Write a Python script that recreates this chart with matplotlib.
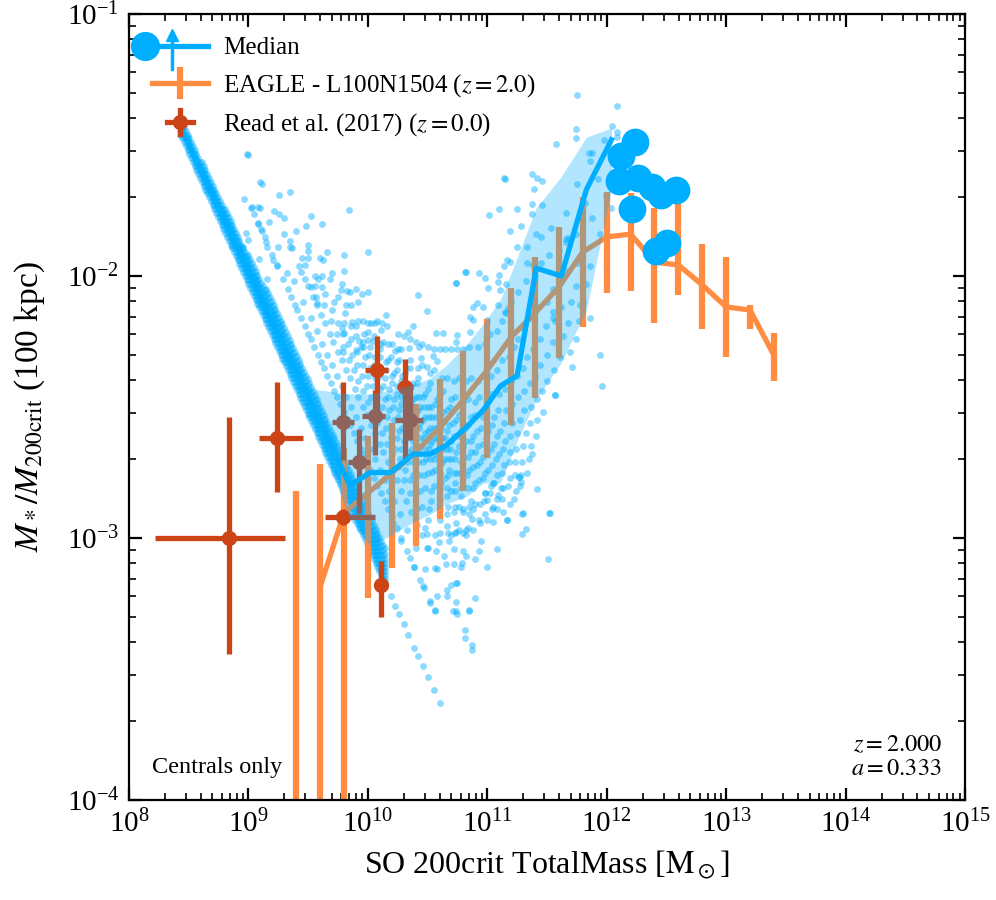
import numpy as np
import matplotlib
matplotlib.use("Agg")
import matplotlib.pyplot as plt
from matplotlib.lines import Line2D
from matplotlib.legend_handler import HandlerBase
from matplotlib.ticker import NullFormatter

plt.rcParams["font.family"] = ["Liberation Serif", "DejaVu Serif"]
plt.rcParams["mathtext.fontset"] = "stix"

blue = "#00AEFF"
orange = "#FF8C40"
red = "#CC4416"

# ---- data (log10 values) ----
# median of the simulation, with 16-84 percentile band
med_logm = [8.43, 8.70, 9.00, 9.30, 9.50, 9.85, 10.02, 10.19, 10.38, 10.52,
            10.66, 10.83, 10.97, 11.11, 11.25, 11.41, 11.62, 11.83, 12.04]
med_logr = [-1.43, -1.69, -1.98, -2.27, -2.46, -2.80, -2.75, -2.75, -2.68, -2.68,
            -2.645, -2.575, -2.51, -2.42, -2.38, -1.97, -2.00, -1.67, -1.48]
med_hi = [-1.41, -1.66, -1.94, -2.22, -2.43, -2.45, -2.45, -2.435, -2.415, -2.39,
          -2.34, -2.26, -2.18, -2.09, -1.93, -1.74, -1.62, -1.47, -1.435]
med_lo = [-1.45, -1.72, -2.01, -2.31, -2.50, -2.93, -3.03, -2.99, -2.94, -2.91,
          -2.87, -2.84, -2.79, -2.79, -2.63, -2.47, -2.33, -2.13, -1.67]

# haloes above the binned range
big_logm = [12.237, 12.117, 12.105, 12.264, 12.377, 12.452, 12.578, 12.209, 12.413, 12.507]
big_logr = [-1.490, -1.541, -1.637, -1.625, -1.659, -1.691, -1.672, -1.745, -1.903, -1.875]

# EAGLE L100N1504 z=2
eagle_logm = [9.4, 9.6, 9.8, 10.0, 10.2, 10.4, 10.6, 10.8, 11.0, 11.2, 11.4,
              11.6, 11.8, 12.0, 12.2, 12.4, 12.6, 12.8, 13.0, 13.2, 13.4]
eagle_logr = [np.nan, -3.187, -2.905, -2.828, -2.752, -2.672, -2.580, -2.473, -2.359,
              -2.233, -2.141, -2.042, -1.908, -1.851, -1.840, -1.947, -1.958, -2.034,
              -2.118, -2.130, -2.302]
eagle_hi = [-2.821, -2.718, -2.656, -2.611, -2.561, -2.489, -2.393, -2.286, -2.164,
            -2.046, -1.927, -1.813, -1.698, -1.679, -1.683, -1.740, -1.691, -1.878,
            -1.927, -2.111, -2.218]
eagle_lo = [-5.0, -5.0, -5.0, -3.229, -3.115, -3.031, -2.927, -2.821, -2.695, -2.569,
            -2.466, -2.313, -2.195, -2.065, -2.057, -2.179, -2.073, -2.202, -2.309,
            -2.202, -2.401]

# Read et al. (2017)
read_logm = [8.840, 9.237, 9.794, 10.110, 9.794, 9.928, 10.060, 10.074, 10.311, 10.353]
read_logr = [-2.999, -2.617, -2.919, -3.179, -2.556, -2.709, -2.534, -2.359, -2.423, -2.550]
read_m_lo = [8.218, 9.089, 9.641, 10.110, 9.697, 9.836, 9.948, 9.976, 10.241, 10.227]
read_m_hi = [9.306, 9.459, 10.060, 10.110, 9.881, 10.018, 10.144, 10.171, 10.380, 10.464]
read_r_lo = [-3.444, -2.826, -2.950, -3.300, -2.702, -2.906, -2.683, -2.534, -2.700, -2.626]
read_r_hi = [-2.537, -2.406, -2.890, -3.088, -2.403, -2.585, -2.435, -2.229, -2.317, -2.424]

# individual haloes: the low-mass band (log M*, and the log M200 where each level starts)
band_mstar = [6.97, 6.985, 7.00, 7.015, 7.03, 7.045, 7.06, 7.08, 7.10]
band_from = [8.43, 8.43, 8.43, 8.43, 8.46, 8.6, 8.8, 9.0, 9.15]
band_logm = [8.43, 8.445, 8.46, 8.475, 8.49, 8.505, 8.52, 8.535, 8.55, 8.565, 8.58,
             8.595, 8.61, 8.625, 8.64, 8.655, 8.67, 8.685, 8.70, 8.715, 8.73, 8.745,
             8.76, 8.775, 8.79, 8.805, 8.82, 8.835, 8.85, 8.865, 8.88, 8.895, 8.91,
             8.925, 8.94, 8.955, 8.97, 8.985, 9.00, 9.015, 9.03, 9.045, 9.06, 9.075,
             9.09, 9.105, 9.12, 9.135, 9.15, 9.165, 9.18, 9.195, 9.21, 9.225, 9.24,
             9.255, 9.27, 9.285, 9.30, 9.315, 9.33, 9.345, 9.36, 9.375, 9.39, 9.405,
             9.42, 9.435, 9.45, 9.465, 9.48, 9.495, 9.51, 9.525, 9.54, 9.555, 9.57,
             9.585, 9.60, 9.615, 9.63, 9.645, 9.66, 9.675, 9.69, 9.705, 9.72, 9.735,
             9.75, 9.765, 9.78, 9.795, 9.81, 9.825, 9.84, 9.855, 9.87, 9.885, 9.90,
             9.915, 9.93, 9.945, 9.96, 9.975, 9.99, 10.005, 10.02, 10.035, 10.05,
             10.065, 10.08, 10.095, 10.11, 10.125, 10.14]
tail_logm = [10.19, 10.23, 10.26, 10.30, 10.34, 10.39, 10.42, 10.46, 10.50, 10.55, 10.60]

# haloes along streaks of (nearly) fixed log M*
streak_mstar = [7.28, 7.36, 7.46, 7.52, 7.57, 7.62, 7.67, 7.71, 7.75, 7.79, 7.82, 7.85,
                7.88, 7.91, 7.94, 7.97, 8.0, 8.03, 8.07, 8.11, 8.15, 8.19, 8.23, 8.27,
                8.32, 8.37, 8.42, 8.47, 8.52, 8.58, 8.65, 8.72, 8.8, 8.87, 8.95, 9.02,
                9.1, 9.2, 9.3, 9.4, 9.5, 9.6, 9.7, 9.8, 9.9, 10.1, 10.3, 10.5]
streak_logm = [
    [9.02, 9.08, 9.11, 9.15, 9.2, 9.24, 9.29, 9.33, 9.36, 9.39, 9.41, 9.44, 9.47, 9.5,
     9.52, 9.55, 9.58, 9.61, 9.63, 9.66, 9.69, 9.72, 9.74, 9.77, 9.8, 9.83, 9.85, 9.88,
     9.91, 9.94, 9.96, 9.99, 10.02, 10.05, 10.08, 10.11, 10.14, 10.17, 10.2, 10.24,
     10.28, 10.33, 10.39, 10.44, 10.47, 10.52, 10.56],
    [9.1, 9.25, 9.38, 9.46, 9.52, 9.57, 9.62, 9.66, 9.7, 9.74, 9.78, 9.82, 9.86, 9.9,
     9.94, 9.98, 10.02, 10.06, 10.1, 10.14, 10.18, 10.22, 10.27, 10.33, 10.4, 10.48, 10.58],
    [9.0, 9.1, 9.21, 9.3, 9.35, 9.42, 9.47, 9.5, 9.54, 9.57, 9.61, 9.64, 9.68, 9.71,
     9.75, 9.78, 9.82, 9.85, 9.89, 9.92, 9.96, 9.99, 10.03, 10.06, 10.1, 10.13, 10.17,
     10.2, 10.24, 10.28, 10.32, 10.36, 10.41, 10.45, 10.5, 10.58, 10.66, 10.74, 10.81,
     10.87],
    [9.3, 9.45, 9.56, 9.63, 9.69, 9.74, 9.79, 9.84, 9.88, 9.92, 9.96, 10.0, 10.04, 10.08,
     10.12, 10.16, 10.2, 10.25, 10.3, 10.35, 10.41, 10.48, 10.57, 10.7],
    [9.26, 9.4, 9.5, 9.58, 9.64, 9.7, 9.75, 9.79, 9.83, 9.87, 9.91, 9.95, 9.99, 10.03,
     10.07, 10.11, 10.15, 10.19, 10.23, 10.27, 10.31, 10.35, 10.4, 10.45, 10.5, 10.56,
     10.64, 10.74, 10.85],
    [9.5, 9.62, 9.72, 9.8, 9.86, 9.91, 9.96, 10.0, 10.04, 10.08, 10.12, 10.16, 10.2,
     10.24, 10.28, 10.33, 10.38, 10.44, 10.51, 10.6, 10.72],
    [9.35, 9.48, 9.6, 9.68, 9.75, 9.81, 9.86, 9.9, 9.94, 9.98, 10.02, 10.06, 10.1,
     10.14, 10.18, 10.22, 10.26, 10.3, 10.34, 10.38, 10.43, 10.48, 10.53, 10.6, 10.68,
     10.78, 10.9],
    [9.7, 9.82, 9.9, 9.96, 10.01, 10.05, 10.09, 10.13, 10.17, 10.21, 10.25, 10.29, 10.33,
     10.37, 10.42, 10.47, 10.53, 10.6, 10.7],
    [9.52, 9.66, 9.78, 9.86, 9.92, 9.97, 10.02, 10.06, 10.1, 10.14, 10.18, 10.22, 10.26,
     10.3, 10.34, 10.38, 10.42, 10.46, 10.5, 10.55, 10.6, 10.66, 10.73, 10.82],
    [9.85, 9.96, 10.04, 10.1, 10.15, 10.2, 10.24, 10.28, 10.32, 10.36, 10.4, 10.44,
     10.49, 10.54, 10.6, 10.67, 10.76],
    [9.62, 9.8, 9.92, 10.0, 10.05, 10.1, 10.15, 10.2, 10.24, 10.28, 10.32, 10.36, 10.4,
     10.44, 10.48, 10.52, 10.56, 10.61, 10.66, 10.72, 10.8, 10.9],
    [9.9, 10.03, 10.11, 10.17, 10.22, 10.27, 10.31, 10.35, 10.39, 10.43, 10.47, 10.51,
     10.55, 10.6, 10.66, 10.73, 10.82],
    [9.8, 9.95, 10.06, 10.13, 10.19, 10.24, 10.28, 10.32, 10.36, 10.4, 10.44, 10.48,
     10.52, 10.56, 10.6, 10.65, 10.7, 10.76, 10.84, 10.93],
    [10.08, 10.17, 10.24, 10.29, 10.34, 10.38, 10.42, 10.46, 10.5, 10.54, 10.58, 10.62,
     10.67, 10.73, 10.8, 10.88],
    [10.0, 10.12, 10.2, 10.26, 10.31, 10.36, 10.4, 10.44, 10.48, 10.52, 10.56, 10.6,
     10.64, 10.68, 10.73, 10.78, 10.85, 10.95],
    [10.16, 10.25, 10.32, 10.38, 10.43, 10.47, 10.51, 10.55, 10.59, 10.63, 10.67, 10.72,
     10.78, 10.85],
    [10.15, 10.28, 10.35, 10.41, 10.46, 10.5, 10.54, 10.58, 10.62, 10.66, 10.7, 10.75,
     10.8, 10.86, 10.93],
    [10.25, 10.35, 10.42, 10.48, 10.53, 10.57, 10.61, 10.65, 10.69, 10.73, 10.78, 10.84, 10.9],
    [10.3, 10.42, 10.5, 10.56, 10.61, 10.66, 10.7, 10.74, 10.78, 10.83, 10.88, 10.94, 11.0],
    [10.35, 10.45, 10.52, 10.58, 10.63, 10.68, 10.72, 10.76, 10.8, 10.85, 10.9, 10.97],
    [10.4, 10.52, 10.6, 10.66, 10.71, 10.76, 10.8, 10.84, 10.88, 10.93, 10.98, 11.04],
    [10.45, 10.55, 10.63, 10.69, 10.74, 10.78, 10.82, 10.86, 10.91, 10.96, 11.02, 11.08],
    [10.5, 10.62, 10.7, 10.76, 10.81, 10.86, 10.9, 10.94, 10.98, 11.03, 11.08, 11.13],
    [10.55, 10.66, 10.73, 10.79, 10.84, 10.88, 10.92, 10.96, 11.01, 11.06, 11.12],
    [10.6, 10.72, 10.8, 10.86, 10.91, 10.96, 11.0, 11.04, 11.08, 11.13, 11.19],
    [10.65, 10.76, 10.84, 10.9, 10.95, 10.99, 11.03, 11.07, 11.12, 11.17, 11.22],
    [10.7, 10.82, 10.9, 10.96, 11.01, 11.06, 11.1, 11.14, 11.19, 11.24],
    [10.75, 10.86, 10.93, 10.99, 11.04, 11.08, 11.13, 11.18, 11.23, 11.27],
    [10.8, 10.92, 11.0, 11.06, 11.11, 11.15, 11.19, 11.23, 11.28],
    [10.85, 10.96, 11.03, 11.09, 11.14, 11.19, 11.24, 11.29, 11.33],
    [10.92, 11.03, 11.1, 11.16, 11.21, 11.25, 11.3, 11.35],
    [10.98, 11.08, 11.15, 11.21, 11.27, 11.32, 11.37],
    [11.02, 11.12, 11.2, 11.26, 11.31, 11.36, 11.41],
    [11.08, 11.18, 11.25, 11.31, 11.37, 11.42],
    [11.12, 11.22, 11.3, 11.36, 11.42, 11.47],
    [11.16, 11.26, 11.33, 11.4, 11.46],
    [11.2, 11.3, 11.38, 11.44, 11.5],
    [11.26, 11.36, 11.44, 11.5, 11.56],
    [11.32, 11.42, 11.49, 11.55, 11.61],
    [11.4, 11.5, 11.57, 11.63, 11.69],
    [11.45, 11.55, 11.62, 11.68, 11.74],
    [11.52, 11.62, 11.7, 11.77],
    [11.6, 11.68, 11.74, 11.8, 11.86],
    [11.66, 11.75, 11.83],
    [11.66, 11.74, 11.8, 11.86],
    [11.75, 11.82, 11.88, 11.94],
    [11.86, 11.93, 11.99, 12.04],
    [11.98, 12.03, 12.08],
]

# scattered individual haloes (log M200, log ratio)
free_logm = [8.985, 9.111, 8.966, 9.027, 9.078, 9.047, 9.256, 9.172, 9.083, 9.103, 8.980,
             9.139, 8.999, 9.348, 9.153, 9.362, 8.952, 9.496, 9.842, 9.091, 9.208, 9.627,
             9.474, 9.236, 9.320, 9.440, 9.560, 9.999, 9.153, 9.775, 9.823, 9.524, 9.613,
             9.566, 9.572, 10.816, 10.736, 10.423, 10.493, 9.867, 10.110, 9.999, 10.333,
             10.571, 10.632, 10.380, 9.781, 9.800, 10.225, 10.345, 10.428, 10.744, 10.736,
             10.548, 10.582, 10.448, 10.493, 9.928, 9.962, 9.794, 9.901, 10.004,
             11.743, 11.743, 11.573, 11.854, 11.879, 12.047, 12.089, 12.083, 11.372, 11.414,
             11.461, 11.394, 11.140, 11.372, 11.461, 11.101, 11.247, 11.012, 11.377, 11.286,
             11.190, 11.530, 11.408, 11.452, 11.679, 11.660, 11.247, 11.330, 11.164, 11.144,
             11.190, 11.330, 11.386, 10.931, 10.819, 10.738, 10.985, 11.096, 11.157, 11.092,
             11.106, 11.008, 10.911, 10.883, 10.967, 11.092, 11.176, 11.148, 11.554, 11.554,
             11.776, 10.855, 10.995, 10.883, 10.855, 11.75, 12.083, 11.148, 11.706, 11.957,
             11.563, 11.944,
             11.266, 11.280, 11.419, 11.113, 11.088, 10.978, 11.0, 11.046, 10.981, 10.883,
             10.794, 10.875, 10.939, 11.050, 11.168, 11.293, 11.519, 11.324, 11.288, 10.736,
             10.738, 10.674, 10.660, 10.819, 11.078, 10.799, 10.721, 10.791, 11.0, 11.505,
             10.744, 10.660, 10.738, 10.710, 10.749, 10.850, 10.813, 10.869, 10.562, 10.520,
             10.464, 10.386, 10.562, 10.654, 10.492, 10.593, 10.498, 10.356, 10.275, 10.213,
             11.567, 11.372, 11.262, 11.525, 11.302, 11.163, 11.050]
free_logr = [-1.534, -1.649, -1.707, -1.738, -1.736, -1.765, -1.763, -1.795, -1.799, -1.821,
             -1.834, -1.850, -1.863, -1.865, -1.888, -1.893, -1.888, -1.903, -1.747, -1.936,
             -1.939, -1.939, -1.958, -1.958, -1.987, -1.985, -2.0, -1.907, -2.011, -2.055,
             -2.058, -2.041, -2.043, -2.079, -2.102, -1.983, -2.027, -2.072, -2.132, -2.174,
             -2.206, -2.214, -2.213, -2.218, -2.218, -2.190, -2.197, -2.219, -2.285, -2.275,
             -2.271, -2.225, -2.251, -2.304, -2.323, -2.314, -2.349, -2.247, -2.270, -2.289,
             -2.282, -2.244,
             -1.439, -1.472, -1.497, -1.532, -1.532, -1.427, -1.449, -1.468, -1.612, -1.625,
             -1.637, -1.667, -1.627, -1.725, -1.728, -1.745, -1.744, -1.768, -1.765, -1.811,
             -1.828, -1.816, -1.841, -1.850, -1.854, -1.871, -1.890, -1.890, -1.939, -1.962,
             -1.945, -1.952, -1.958, -1.990, -1.983, -2.028, -2.009, -1.996, -2.031, -2.024,
             -2.053, -2.047, -2.102, -2.117, -2.117, -2.111, -2.121, -2.136, -2.136, -2.162,
             -2.111, -2.155, -2.168, -2.168, -2.213, -1.308, -1.350, -1.628, -2.346, -2.420,
             -2.454, -2.302,
             -2.768, -2.785, -2.813, -2.808, -2.836, -2.827, -2.855, -2.880, -2.910, -2.890,
             -2.900, -2.927, -2.944, -2.940, -2.931, -2.910, -2.903, -2.964, -2.986, -2.941,
             -2.976, -2.980, -2.954, -2.989, -3.043, -3.050, -3.043, -3.094, -3.112, -3.079,
             -3.173, -3.221, -3.245, -3.278, -3.290, -3.275, -3.383, -3.427, -3.275, -3.249,
             -3.183, -3.109, -3.113, -3.099, -3.039, -3.014, -2.985, -3.077, -3.010, -2.944,
             -2.454, -2.679, -2.766, -2.906, -2.906, -2.931, -2.791]

# ---- collect the individual haloes ----
pts_m = []
pts_r = []
for lvl, start in zip(band_mstar, band_from):
    for m in band_logm:
        if m >= start:
            pts_m.append(m)
            pts_r.append(lvl - m)
for m in tail_logm:
    pts_m.append(m)
    pts_r.append(band_mstar[0] - m)
for lvl, ms in zip(streak_mstar, streak_logm):
    for m in ms:
        pts_m.append(m)
        pts_r.append(lvl - m)
pts_m += free_logm
pts_r += free_logr
pts_m = np.array(pts_m)
pts_r = np.array(pts_r)


class MedianHandle(HandlerBase):
    def create_artists(self, legend, orig_handle, xdescent, ydescent, width, height,
                       fontsize, trans):
        x0 = -xdescent
        y0 = -ydescent + height / 2
        xa = x0 + 0.36 * width
        arts = [
            Line2D([x0, x0 + width], [y0, y0], color=blue, lw=3.8),
            Line2D([xa, xa], [y0 - 1.35 * height, y0 + 0.6 * height], color=blue, lw=2.5),
            Line2D([xa], [y0 + 0.6 * height], marker="^", ms=8, color=blue, lw=0),
            Line2D([x0 - 0.12 * width], [y0], marker="o", ms=20, color=blue, lw=0),
        ]
        for a in arts:
            a.set_transform(trans)
        return arts


class EagleHandle(HandlerBase):
    def create_artists(self, legend, orig_handle, xdescent, ydescent, width, height,
                       fontsize, trans):
        x0 = -xdescent
        y0 = -ydescent + height / 2
        xc = x0 + width / 2
        arts = [
            Line2D([x0, x0 + width], [y0, y0], color=orange, lw=3.8),
            Line2D([xc, xc], [y0 - 0.74 * height, y0 + 0.74 * height], color=orange, lw=4.5),
        ]
        for a in arts:
            a.set_transform(trans)
        return arts


class ReadHandle(HandlerBase):
    def create_artists(self, legend, orig_handle, xdescent, ydescent, width, height,
                       fontsize, trans):
        x0 = -xdescent
        y0 = -ydescent + height / 2
        xc = x0 + width / 2
        arts = [
            Line2D([xc - 0.24 * width, xc + 0.24 * width], [y0, y0], color=red, lw=3.8),
            Line2D([xc, xc], [y0 - 0.7 * height, y0 + 0.7 * height], color=red, lw=3.8),
            Line2D([xc], [y0], marker="o", ms=10, color=red, lw=0),
        ]
        for a in arts:
            a.set_transform(trans)
        return arts


fig = plt.figure(figsize=(9.96, 9.0), dpi=100)
ax = fig.add_axes([129 / 996, 100 / 900, 836 / 996, 786 / 900])
ax.set_xscale("log")
ax.set_yscale("log")

ax.scatter(10 ** pts_m, 10 ** pts_r, s=24, color=blue, alpha=0.45, linewidths=0, zorder=1)

em = np.array(eagle_logm)
ax.plot(10 ** em, 10 ** np.array(eagle_logr), color=orange, lw=3.8, zorder=2)
ax.vlines(10 ** em, 10 ** np.array(eagle_lo), 10 ** np.array(eagle_hi),
          color=orange, lw=4.5, zorder=2)

rm = 10 ** np.array(read_logm)
rr = 10 ** np.array(read_logr)
ax.errorbar(rm, rr,
            xerr=[rm - 10 ** np.array(read_m_lo), 10 ** np.array(read_m_hi) - rm],
            yerr=[rr - 10 ** np.array(read_r_lo), 10 ** np.array(read_r_hi) - rr],
            fmt="o", color=red, ms=10, elinewidth=3.8, capsize=0, zorder=3)

mm = 10 ** np.array(med_logm)
ax.fill_between(mm, 10 ** np.array(med_lo), 10 ** np.array(med_hi),
                color=blue, alpha=0.3, lw=0, zorder=4)
ax.plot(mm, 10 ** np.array(med_logr), color=blue, lw=3.8, zorder=5)
ax.scatter(10 ** np.array(big_logm), 10 ** np.array(big_logr), s=400, color=blue,
           linewidths=0, zorder=6)

ax.set_xticks([1e8, 1e9, 1e10, 1e11, 1e12, 1e13, 1e14, 1e15])
ax.set_yticks([1e-4, 1e-3, 1e-2, 1e-1])
ax.set_xlim(1e8, 1e15)
ax.set_ylim(1e-4, 1e-1)
ax.set_xlabel(r"SO 200crit TotalMass [$\mathrm{M}_\odot$]", fontsize=23, labelpad=8)
ax.set_ylabel(r"$M_* / M_{\rm 200crit}$ (100 kpc)", fontsize=24, labelpad=14)
ax.xaxis.set_minor_formatter(NullFormatter())
ax.yaxis.set_minor_formatter(NullFormatter())

ax.tick_params(which="both", direction="in", top=True, right=True)
ax.tick_params(which="major", length=9, width=1.6, labelsize=21, pad=7)
ax.tick_params(which="minor", length=5, width=1.2)
for sp in ax.spines.values():
    sp.set_linewidth(1.6)

ax.text(0.027, 0.028, "Centrals only", transform=ax.transAxes, ha="left", va="bottom",
        fontsize=17.5)
ax.text(0.9725, 0.025, "$z = 2.000$\n$a = 0.333$", transform=ax.transAxes, ha="right",
        va="bottom", fontsize=17.5, multialignment="right")

hm, he, hr = object(), object(), object()
ax.legend([hm, he, hr],
          ["Median", r"EAGLE - L100N1504 ($z = 2.0$)", r"Read et al. (2017) ($z = 0.0$)"],
          handler_map={hm: MedianHandle(), he: EagleHandle(), hr: ReadHandle()},
          loc="upper left", frameon=False, fontsize=18, handlelength=2.24,
          labelspacing=0.5, handletextpad=0.6, borderaxespad=0.52)

fig.savefig("out.png", dpi=100)
